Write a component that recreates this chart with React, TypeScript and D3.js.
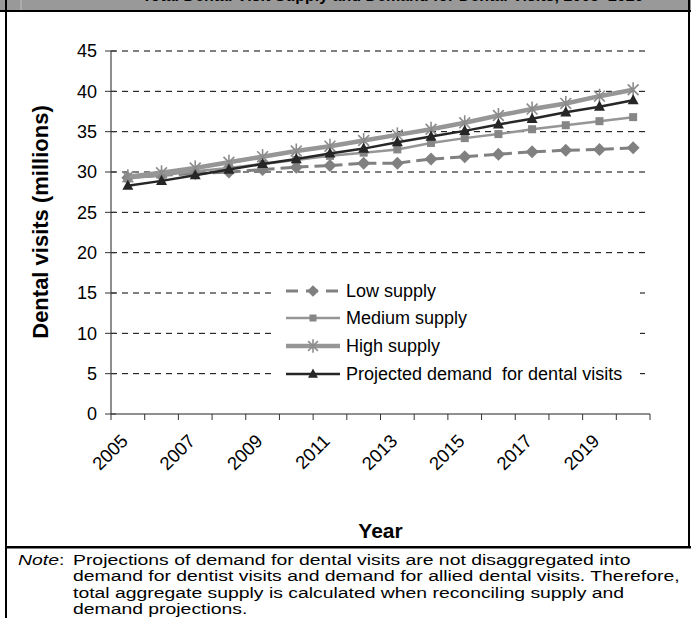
import React from "react";
import * as d3 from "d3";

const years: number[] = [2005, 2006, 2007, 2008, 2009, 2010, 2011, 2012, 2013, 2014, 2015, 2016, 2017, 2018, 2019, 2020];
const lowSupply: number[] = [29.3, 29.6, 29.8, 30.0, 30.3, 30.6, 30.8, 31.1, 31.1, 31.6, 31.9, 32.2, 32.5, 32.7, 32.8, 33.0];
const mediumSupply: number[] = [29.2, 29.6, 30.1, 30.5, 31.0, 31.5, 32.0, 32.4, 32.8, 33.6, 34.2, 34.7, 35.3, 35.8, 36.3, 36.8];
const highSupply: number[] = [29.4, 29.9, 30.5, 31.2, 31.9, 32.6, 33.2, 33.9, 34.6, 35.3, 36.1, 37.0, 37.8, 38.5, 39.4, 40.2];
const projectedDemand: number[] = [28.3, 28.9, 29.6, 30.3, 31.0, 31.6, 32.3, 32.9, 33.7, 34.4, 35.1, 35.9, 36.6, 37.4, 38.1, 38.9];
const yTicks: number[] = [0, 5, 10, 15, 20, 25, 30, 35, 40, 45];
const xLabelYears: number[] = [2005, 2007, 2009, 2011, 2013, 2015, 2017, 2019];
const seriesNames: string[] = ["Low supply", "Medium supply", "High supply", "Projected demand  for dental visits"];
const noteLines: string[] = [
  "Projections of demand for dental visits are not disaggregated into",
  "demand for dentist visits and demand for allied dental visits. Therefore,",
  "total aggregate supply is calculated when reconciling supply and",
  "demand projections.",
];

const FONT = "'Liberation Sans', Arial, Helvetica, sans-serif";

type MarkerKind = "diamond" | "square" | "star" | "triangle";

function Marker({ kind, x, y, s }: { kind: MarkerKind; x: number; y: number; s: number }) {
  if (kind === "diamond") {
    return <path d={`M${x},${y - s} L${x + s},${y} L${x},${y + s} L${x - s},${y} Z`} fill="#808080" />;
  }
  if (kind === "square") {
    return <rect x={x - s} y={y - s} width={2 * s} height={2 * s} fill="#868686" />;
  }
  if (kind === "triangle") {
    return <path d={`M${x},${y - s * 1.1} L${x + s},${y + s * 0.75} L${x - s},${y + s * 0.75} Z`} fill="#262626" />;
  }
  const d = s * 0.72;
  return (
    <g stroke="#8c8c8c" strokeWidth={1.6}>
      <line x1={x} y1={y - s} x2={x} y2={y + s} />
      <line x1={x - d} y1={y - d} x2={x + d} y2={y + d} />
      <line x1={x - d} y1={y + d} x2={x + d} y2={y - d} />
    </g>
  );
}

export default function App() {
  const W = 691;
  const H = 618;
  const left = 111;
  const right = 650;
  const top = 51;
  const bottom = 414;

  const x = d3.scaleBand<number>().domain(years).range([left, right]).padding(0);
  const y = d3.scaleLinear().domain([0, 45]).range([bottom, top]);
  const cx = (yr: number) => (x(yr) as number) + x.bandwidth() / 2;

  const line = d3
    .line<number>()
    .x((_, i) => cx(years[i]))
    .y((v) => y(v));

  const series = [
    { name: seriesNames[0], data: lowSupply, color: "#808080", width: 3, dash: "11,6", marker: "diamond" as MarkerKind, ms: 6.5 },
    { name: seriesNames[1], data: mediumSupply, color: "#969696", width: 2.5, dash: "", marker: "square" as MarkerKind, ms: 4 },
    { name: seriesNames[2], data: highSupply, color: "#969696", width: 4.5, dash: "", marker: "star" as MarkerKind, ms: 7.5 },
    { name: seriesNames[3], data: projectedDemand, color: "#262626", width: 2.5, dash: "", marker: "triangle" as MarkerKind, ms: 5.5 },
  ];

  const boundaries = d3.range(years.length + 1).map((i) => left + i * x.bandwidth());

  const legendX0 = 286;
  const legendX1 = 340;
  const legendRows = [291, 318, 346, 374];
  const noteScale = 1.25;

  return (
    <svg
      width={W}
      height={H}
      viewBox={`0 0 ${W} ${H}`}
      style={{ position: "absolute", left: 0, top: 0, background: "#fff" }}
      fontFamily={FONT}
    >
      <rect x={0} y={0} width={W} height={H} fill="#fff" />
      {/* header band */}
      <rect x={0} y={0} width={W} height={10} fill="#999999" />
      <line x1={21} y1={0} x2={21} y2={10} stroke="#c0c0c0" strokeWidth={1} />
      <text x={142} y={1} fontSize={16} fontWeight="bold" fill="#000">
        Total Dental Visit Supply and Demand for Dental Visits, 2005–2020
      </text>
      <rect x={0} y={10} width={W} height={2} fill="#000" />
      {/* frame */}
      <rect x={5} y={0} width={2} height={H} fill="#000" />
      <rect x={688} y={0} width={2} height={548} fill="#000" />
      <rect x={5} y={546} width={W - 5} height={2.5} fill="#000" />

      {/* gridlines */}
      {yTicks.filter((t) => t > 0).map((t) => (
        <line key={`g${t}`} x1={left} x2={right} y1={y(t)} y2={y(t)} stroke="#000" strokeWidth={1} strokeDasharray="6,5" />
      ))}

      {/* axes */}
      <line x1={left} x2={left} y1={top} y2={bottom} stroke="#444" strokeWidth={1.2} />
      <line x1={left} x2={right} y1={bottom} y2={bottom} stroke="#222" strokeWidth={1.2} />
      {yTicks.map((t) => (
        <g key={`yt${t}`}>
          <line x1={left - 6} x2={left + 5} y1={y(t)} y2={y(t)} stroke="#333" strokeWidth={1} />
          <text x={97} y={y(t)} dy="0.36em" textAnchor="end" fontSize={18} fill="#000">
            {t}
          </text>
        </g>
      ))}
      {boundaries.map((b, i) => (
        <line key={`xt${i}`} x1={b} x2={b} y1={bottom} y2={bottom + 6} stroke="#333" strokeWidth={1} />
      ))}
      {xLabelYears.map((yr) => (
        <text
          key={`xl${yr}`}
          transform={`translate(${cx(yr) - 8},${bottom + 19}) rotate(-45)`}
          textAnchor="end"
          dy="0.7em"
          fontSize={18.5}
          fill="#000"
        >
          {yr}
        </text>
      ))}

      {/* axis titles */}
      <text
        transform={`translate(40,222) rotate(-90)`}
        textAnchor="middle"
        dy="0.35em"
        fontSize={22}
        fontWeight="bold"
        fill="#000"
      >
        Dental visits (millions)
      </text>
      <text x={(left + right) / 2} y={538} textAnchor="middle" fontSize={21} fontWeight="bold" fill="#000">
        Year
      </text>

      {/* series */}
      {series.map((s) => (
        <g key={s.name}>
          <path
            d={line(s.data) as string}
            fill="none"
            stroke={s.color}
            strokeWidth={s.width}
            strokeDasharray={s.dash || undefined}
            strokeLinejoin="round"
          />
          {s.data.map((v, i) => (
            <Marker key={i} kind={s.marker} x={cx(years[i])} y={y(v)} s={s.ms} />
          ))}
        </g>
      ))}

      {/* legend */}
      <rect x={276} y={278} width={364} height={108} fill="#fff" />
      {series.map((s, i) => (
        <g key={`lg${i}`}>
          <line
            x1={legendX0}
            x2={legendX1}
            y1={legendRows[i]}
            y2={legendRows[i]}
            stroke={s.color}
            strokeWidth={s.width}
            strokeDasharray={s.dash ? "12,8" : undefined}
          />
          <Marker kind={s.marker} x={(legendX0 + legendX1) / 2} y={legendRows[i]} s={s.marker === "square" ? 3.5 : s.ms * 0.9} />
          <text x={346} y={legendRows[i]} dy="0.36em" fontSize={18} fill="#000" xmlSpace="preserve">
            {s.name}
          </text>
        </g>
      ))}

      {/* note */}
      <g transform={`translate(18,0) scale(${noteScale},1)`}>
        <text x={0} y={565} fontSize={15.5} fill="#000">
          <tspan fontStyle="italic">Note</tspan>
          <tspan>:</tspan>
        </text>
      </g>
      <g transform={`translate(73,0) scale(${noteScale},1)`}>
        {noteLines.map((l, i) => (
          <text key={`n${i}`} x={0} y={565 + i * 16.5} fontSize={15.5} fill="#000">
            {l}
          </text>
        ))}
      </g>
    </svg>
  );
}
